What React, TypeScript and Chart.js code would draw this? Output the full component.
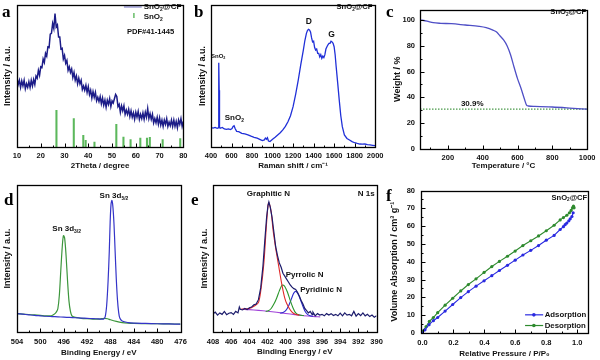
import React, { useEffect, useRef } from "react";
import { Chart, registerables } from "chart.js";
Chart.register(...registerables);

type Pt = [number, number];
const FONT = "'Liberation Sans', Arial, Helvetica, sans-serif";

// ---------- (a) XRD ----------
const xrdTicks = [10, 20, 30, 40, 50, 60, 70, 80];
const xrdCurve: Pt[] = [
  [10,48.5],[10.5,44],[11,47],[11.5,42],[12,46.5],[12.5,43],[13,47],[13.5,41],[14,44.5],[14.5,42],[15,46],[15.5,42],[16,47],[16.5,43],[17,47.5],[17.5,44],[18,50],[18.5,48.5],[19,54],[19.5,50.5],[20,56.5],[20.5,56],[21,62],[21.5,59.5],[22,66],[22.5,64],[23,70.5],[23.5,70],[24,79.5],[24.5,80],[25,87],[25.5,83.5],[26,94],[26.5,84.5],[27,86],[27.5,77.5],[28,77.5],[28.5,69],[29,69.5],[29.5,62],[30,64.5],[30.5,59],[31,61],[31.5,54],[32,56.5],[32.5,52.5],[33,55],[33.5,49],[34,52.5],[34.5,47],[35,50],[35.5,44.5],[36,48.5],[36.5,44.5],[37,47],[37.5,40.5],[38,43],[38.5,40],[39,43.5],[39.5,38.5],[40,42.5],[40.5,37],[41,40],[41.5,34.5],[42,39],[42.5,35],[43,38.5],[43.5,32.5],[44,35],[44.5,32],[45,35.5],[45.5,30.5],[46,34.5],[46.5,29.5],[47,33],[47.5,28],[48,33],[48.5,30],[49,34],[49.5,28.5],[50,32.5],[50.5,31],[51,34],[51.5,37],[52,35.5],[52.5,28.5],[53,30],[53.5,24.5],[54,29],[54.5,25.5],[55,29],[55.5,23],[56,26],[56.5,23],[57,26.5],[57.5,21.5],[58,25.5],[58.5,21],[59,24],[59.5,19.5],[60,24.5],[60.5,21],[61,25],[61.5,19.5],[62,23],[62.5,20],[63,24],[63.5,19.5],[64,24.5],[64.5,21],[65,27],[65.5,20],[66,23.5],[66.5,19.5],[67,23],[67.5,17],[68,20],[68.5,17],[69,21],[69.5,16],[70,20.5],[70.5,15.5],[71,19],[71.5,14.5],[72,19],[72.5,16],[73,20],[73.5,14.5],[74,17.5],[74.5,15],[75,19],[75.5,14.5],[76,19],[76.5,14.5],[77,18],[77.5,13.5],[78,19],[78.5,16],[79,20],[79.5,14.5],[80,18]
];
const pdfPositions = [26.6, 33.9, 37.9, 38.9, 42.6, 51.8, 54.8, 57.8, 61.9, 64.7, 65.9, 71.3, 78.7];
const pdfIntensities = [25.8, 20, 8.2, 4.7, 3.5, 16, 7, 5.2, 6.3, 6.3, 6.8, 5.2, 5.9];

// ---------- (b) Raman ----------
const ramanTicks = [400, 600, 800, 1000, 1200, 1400, 1600, 1800, 2000];
const ramanCurve: Pt[] = [
  [400,13.6],[420,13.3],[440,13.8],[460,13.2],[470,13.5],[474,16],[477,59.4],[480,40],[483,14],[490,13.2],[510,13.8],[530,12.7],[550,12.4],[570,12.8],[590,12.3],[605,13],[615,14.5],[625,15],[635,13],[650,11],[670,10.8],[700,9.6],[730,9.2],[760,8.6],[790,7.6],[820,6.8],[850,6.2],[880,5.2],[900,4.5],[920,5],[930,6.3],[940,5.5],[950,6.5],[960,4.2],[975,3.8],[1000,5.4],[1025,6.8],[1050,8.5],[1075,10],[1100,12],[1125,14.5],[1150,17.8],[1175,22],[1200,28.4],[1225,37],[1250,47],[1275,58],[1300,68.3],[1315,75],[1330,80],[1340,82],[1350,82.9],[1360,82.5],[1370,81],[1380,77],[1390,74],[1400,74.5],[1410,70],[1420,68.3],[1430,69],[1440,66],[1450,66],[1460,63.5],[1470,65],[1480,62.4],[1490,64],[1500,63],[1510,65],[1520,69],[1530,70.6],[1540,72],[1550,73],[1560,73],[1570,74.5],[1580,74],[1590,73],[1600,70.6],[1610,65],[1620,56.5],[1635,45],[1650,33],[1665,22],[1680,14.3],[1700,8.5],[1725,6],[1750,4.9],[1775,3.8],[1800,3],[1825,2.5],[1850,2.1],[1875,2],[1900,2.1],[1925,1.7],[1950,1.5],[1975,1.2],[2000,0.9]
];

// ---------- (c) TGA ----------
const tgaXTicks = [200, 400, 600, 800, 1000];
const tgaYTicks = [0, 20, 40, 60, 80, 100];
const tgaCurve: Pt[] = [
  [40,100],[80,99],[116,97.8],[160,97.3],[220,97],[300,96],[380,95],[420,94],[459,92],[480,90.5],[500,87.5],[520,84.5],[540,80],[560,73],[580,63.5],[600,54.5],[620,47],[640,38.5],[652,34],[662,33.3],[700,33],[800,32.5],[900,31.7],[1000,30.8]
];
const residue: Pt[] = [[40, 30.9], [1000, 30.9]];

// ---------- (d) Sn 3d ----------
const sn3dTicks = [504, 500, 496, 492, 488, 484, 480, 476];
const sn3d32: Pt[] = [
  [504,12.5],[503,12.2],[502,11.9],[501,11.6],[500,11.3],[499,11],[498.5,11],[498,11.2],[497.5,12.5],[497.2,14],[497,16],[496.75,25],[496.5,42],[496.25,58],[496.05,65.5],[495.85,64],[495.6,52],[495.35,35],[495.1,21],[494.85,14],[494.6,11],[494.3,10.3],[494,10],[493.5,9.7],[493,9.3],[492,9],[491,8.8],[490,8.8],[489.5,9.1],[489,9.3],[488.5,9],[488,8.3],[487,7.2],[486,6.4],[485,6],[484,5.8],[482,5.7],[480,5.6],[478,5.5],[476,5.4]
];
const sn3d52: Pt[] = [
  [504,12.5],[503,12.1],[502,11.7],[501,11.3],[500,11],[499,10.7],[498,10.5],[497,10.3],[496,10.1],[495,9.9],[494,9.7],[493,9.5],[492,9.3],[491,9.1],[490,8.9],[489.2,8.8],[488.9,10.5],[488.65,18],[488.4,35],[488.2,55],[488.05,75],[487.9,87],[487.75,89.5],[487.6,86],[487.4,74],[487.2,55],[487,36],[486.8,22],[486.6,13.5],[486.4,9.5],[486,7.5],[485,6.4],[484,6],[482,5.8],[480,5.6],[478,5.5],[476,5.3]
];

// ---------- (e) N 1s ----------
const n1sTicks = [408, 406, 404, 402, 400, 398, 396, 394, 392, 390];
const n1sRaw: Pt[] = [
  [408,12.5],[407.75,13.5],[407.5,11.5],[407.25,13],[407,12],[406.75,14],[406.5,11.8],[406.25,12.8],[406,13.2],[405.75,12],[405.5,14],[405.25,13],[405.1,17],[405,15.5],[404.75,15],[404.5,16],[404.25,15.2],[404,16.5],[403.75,17],[403.5,18.5],[403.25,19],[403,22],[402.75,30],[402.5,45],[402.3,62],[402.1,78],[401.95,86],[401.85,88.5],[401.7,85],[401.5,78],[401.3,68],[401.1,58],[400.9,52],[400.7,47],[400.5,44],[400.3,40],[400.1,38],[399.9,36],[399.7,34],[399.5,32],[399.3,30.5],[399.1,29.5],[398.9,29],[398.7,27],[398.5,24.5],[398.3,21.5],[398.1,19],[397.9,16],[397.7,14.5],[397.5,13],[397.3,14],[397.1,12],[397,13.5],[396.75,11],[396.5,12.5],[396.25,11.5],[396,12],[395.75,11],[395.5,12.5],[395.25,11.5],[395,12.5],[394.75,11.2],[394.5,12],[394.25,11],[394,12.8],[393.75,11],[393.5,13],[393.25,11.5],[393,12],[392.75,11],[392.5,14],[392.25,10.8],[392,12.5],[391.75,11.2],[391.5,13],[391.25,11],[391,12],[390.75,10.5],[390.5,11.5],[390.25,10],[390,11]
];
const n1sGraphitic: Pt[] = [
  [405,15.5],[404,16],[403.5,17.5],[403,20],[402.7,30],[402.4,47],[402.15,70],[401.95,86],[401.85,88],[401.6,82],[401.4,70],[401.1,57],[400.8,46],[400.5,35],[400.3,28.5],[400.1,23],[399.9,19.5],[399.6,16],[399.3,13.5],[399,12.2],[398.5,11.4]
];
const n1sPyrrolic: Pt[] = [
  [402.2,14],[401.9,14.5],[401.6,16],[401.3,19],[401,23],[400.7,28],[400.45,31.5],[400.3,32],[400.1,31],[399.8,27],[399.5,21.5],[399.2,16.5],[398.9,13],[398.5,11.5],[398,11.2]
];
const n1sPyridinic: Pt[] = [
  [400.6,12.8],[400.3,13.2],[400,14.5],[399.7,17.5],[399.4,22],[399.15,26],[398.95,27.5],[398.75,27],[398.5,24],[398.2,19],[397.9,14.5],[397.6,12],[397.3,11],[397,10.7]
];
const n1sBackground: Pt[] = [
  [404.8,15.5],[404,15.2],[403,14.7],[402,14.1],[401,13.4],[400,12.6],[399,11.8],[398,11.1],[397,10.6],[396.2,10.3]
];

// ---------- (f) N2 isotherm ----------
const betXTicks = [0, 0.2, 0.4, 0.6, 0.8, 1.0];
const betYTicks = [0, 10, 20, 30, 40, 50, 60, 70, 80];
const adsorption: Pt[] = [
  [0,0],[0.016,1.8],[0.042,4.7],[0.07,6.9],[0.098,8.7],[0.146,12.3],[0.195,16],[0.247,19.9],[0.296,23.2],[0.346,26.3],[0.398,29.3],[0.448,32.2],[0.497,35.1],[0.549,38],[0.599,40.9],[0.649,43.8],[0.7,46.4],[0.75,49.1],[0.8,52.1],[0.851,54.8],[0.89,58.1],[0.911,59.7],[0.922,60.8],[0.933,61.7],[0.946,63],[0.955,64.1],[0.966,65.4],[0.974,67.5]
];
const desorption: Pt[] = [
  [0,1.1],[0.023,3.6],[0.044,6.5],[0.07,8.7],[0.098,11.4],[0.146,15.6],[0.195,19.5],[0.247,23.6],[0.296,27.2],[0.346,30.4],[0.398,34],[0.448,37.3],[0.497,40.2],[0.549,43.1],[0.599,46],[0.649,49.1],[0.7,51.8],[0.75,54.5],[0.8,57.4],[0.851,60.5],[0.89,63.5],[0.911,64.8],[0.933,66.1],[0.95,67.5],[0.961,68.8],[0.97,70.3],[0.976,71.2],[0.98,70.3]
];

// ---------- helpers ----------
const pts = (a: Pt[]) => a.map(([x, y]) => ({ x, y }));

type Note =
  | { t: "text"; text: string; x: number; y: number; size?: number; align?: "left" | "center" | "right" }
  | { t: "seg"; x1: number; x2: number; y: number; color: string; width?: number }
  | { t: "dot"; x: number; y: number; color: string; r?: number }
  | { t: "vbar"; x: number; y1: number; y2: number; color: string; width?: number };

interface Axis {
  min: number; max: number; reverse?: boolean; ticks?: number[]; marks: boolean;
  title: string; titlePad: number; tickPad: number; fmt?: (v: number) => string;
}
interface Panel {
  key: string; left: number; top: number; w: number; h: number;
  area: [number, number, number, number];
  x: Axis; y: Axis; datasets: any[]; notes: Note[];
}

function drawRich(ctx: CanvasRenderingContext2D, text: string, x: number, y: number, size: number, align: string) {
  const parts: { s: string; m: number }[] = [];
  const re = /([_^])\{([^}]*)\}/g;
  let last = 0;
  let m: RegExpExecArray | null;
  while ((m = re.exec(text))) {
    if (m.index > last) parts.push({ s: text.slice(last, m.index), m: 0 });
    parts.push({ s: m[2], m: m[1] === "_" ? 1 : 2 });
    last = re.lastIndex;
  }
  if (last < text.length) parts.push({ s: text.slice(last), m: 0 });
  const fontFor = (mode: number) => `bold ${mode ? size * 0.62 : size}px ${FONT}`;
  let total = 0;
  const widths = parts.map((p) => {
    ctx.font = fontFor(p.m);
    const w = ctx.measureText(p.s).width;
    total += w;
    return w;
  });
  let cx = align === "center" ? x - total / 2 : align === "right" ? x - total : x;
  ctx.textAlign = "left";
  ctx.textBaseline = "middle";
  ctx.fillStyle = "#111";
  parts.forEach((p, i) => {
    ctx.font = fontFor(p.m);
    const dy = p.m === 1 ? size * 0.3 : p.m === 2 ? -size * 0.35 : 0;
    ctx.fillText(p.s, cx, y + dy);
    cx += widths[i];
  });
}

function minorOf(t: number[] | undefined, a: number, b: number) {
  const out: number[] = [];
  if (!t || t.length < 2) return out;
  const step = t[1] - t[0];
  const lo = Math.min(a, b), hi = Math.max(a, b);
  for (let i = -1; i < t.length; i++) {
    const v = t[0] + step * (i + 0.5);
    if (v > lo && v < hi) out.push(v);
  }
  return out;
}

function framePlugin(p: Panel) {
  return {
    id: "frame-" + p.key,
    afterDraw(chart: any) {
      const { ctx, chartArea } = chart;
      const { left, right, top, bottom } = chartArea;
      const xs = chart.scales.x, ys = chart.scales.y;
      ctx.save();
      for (const n of p.notes) {
        if (n.t === "text") {
          drawRich(ctx, n.text, xs.getPixelForValue(n.x), ys.getPixelForValue(n.y), n.size ?? 8, n.align ?? "center");
        } else if (n.t === "seg") {
          ctx.strokeStyle = n.color; ctx.lineWidth = n.width ?? 1.2;
          ctx.beginPath();
          const yy = ys.getPixelForValue(n.y);
          ctx.moveTo(xs.getPixelForValue(n.x1), yy); ctx.lineTo(xs.getPixelForValue(n.x2), yy);
          ctx.stroke();
        } else if (n.t === "dot") {
          ctx.fillStyle = n.color;
          ctx.beginPath();
          ctx.arc(xs.getPixelForValue(n.x), ys.getPixelForValue(n.y), n.r ?? 1.8, 0, Math.PI * 2);
          ctx.fill();
        } else if (n.t === "vbar") {
          ctx.strokeStyle = n.color; ctx.lineWidth = n.width ?? 1.5;
          ctx.beginPath();
          const xx = xs.getPixelForValue(n.x);
          ctx.moveTo(xx, ys.getPixelForValue(n.y1)); ctx.lineTo(xx, ys.getPixelForValue(n.y2));
          ctx.stroke();
        }
      }
      ctx.strokeStyle = "#000";
      ctx.lineWidth = 1.3;
      const L = Math.round(left) + 0.5, R = Math.round(right) + 0.5, T = Math.round(top) + 0.5, B = Math.round(bottom) + 0.5;
      ctx.strokeRect(L, T, R - L, B - T);
      ctx.lineWidth = 1;
      ctx.beginPath();
      if (p.x.marks && p.x.ticks) {
        for (const v of p.x.ticks) { const px = Math.round(xs.getPixelForValue(v)) + 0.5; ctx.moveTo(px, B); ctx.lineTo(px, B - 4); }
        for (const v of minorOf(p.x.ticks, p.x.min, p.x.max)) { const px = Math.round(xs.getPixelForValue(v)) + 0.5; ctx.moveTo(px, B); ctx.lineTo(px, B - 2); }
      }
      if (p.y.marks && p.y.ticks) {
        for (const v of p.y.ticks) { const py = Math.round(ys.getPixelForValue(v)) + 0.5; ctx.moveTo(L, py); ctx.lineTo(L + 4, py); }
        for (const v of minorOf(p.y.ticks, p.y.min, p.y.max)) { const py = Math.round(ys.getPixelForValue(v)) + 0.5; ctx.moveTo(L, py); ctx.lineTo(L + 2, py); }
      }
      ctx.stroke();
      ctx.restore();
    },
  };
}

function buildConfig(p: Panel): any {
  const [al, at, ar, ab] = p.area;
  const tickFont = { family: FONT, size: 7.5, weight: "bold" as const };
  return {
    type: "line",
    data: { datasets: p.datasets },
    options: {
      responsive: false,
      maintainAspectRatio: false,
      animation: false,
      layout: { padding: { left: 0, top: at, right: p.w - ar, bottom: 0 } },
      plugins: { legend: { display: false }, tooltip: { enabled: false } },
      elements: { point: { radius: 0 } },
      scales: {
        x: {
          type: "linear", min: p.x.min, max: p.x.max, reverse: !!p.x.reverse, offset: false,
          grid: { display: false, drawTicks: false }, border: { display: false },
          ticks: {
            display: true, font: tickFont, color: "#111", padding: p.x.tickPad, maxRotation: 0, autoSkip: false,
            callback: (v: number) => (p.x.fmt ? p.x.fmt(v) : String(v)),
          },
          afterBuildTicks: (s: any) => { s.ticks = (p.x.ticks ?? []).map((v) => ({ value: v })); },
          afterFit: (s: any) => { s.height = p.h - ab; },
          title: { display: true, text: p.x.title, color: "#111", font: { family: FONT, size: 8, weight: "bold" }, padding: { top: 0, bottom: p.x.titlePad } },
        },
        y: {
          type: "linear", min: p.y.min, max: p.y.max, reverse: !!p.y.reverse,
          grid: { display: false, drawTicks: false }, border: { display: false },
          ticks: {
            display: !!p.y.ticks, font: tickFont, color: "#111", padding: p.y.tickPad, autoSkip: false,
            callback: (v: number) => (p.y.fmt ? p.y.fmt(v) : String(v)),
          },
          afterBuildTicks: (s: any) => { if (p.y.ticks) s.ticks = p.y.ticks.map((v) => ({ value: v })); },
          afterFit: (s: any) => { s.width = al; },
          title: { display: true, text: p.y.title, color: "#111", font: { family: FONT, size: 9, weight: "bold" }, padding: { top: p.y.titlePad, bottom: 0 } },
        },
      },
    },
    plugins: [framePlugin(p)],
  };
}

const line = (data: Pt[], color: string, width = 1.2, extra: any = {}) => ({
  type: "line", data: pts(data), borderColor: color, backgroundColor: color, borderWidth: width,
  pointRadius: 0, tension: 0, fill: false, ...extra,
});

const panels: Panel[] = [
  {
    key: "a", left: 0, top: 0, w: 192, h: 180, area: [17, 5, 185, 147],
    x: { min: 10, max: 80, ticks: xrdTicks, marks: true, title: "2Theta / degree", titlePad: 9.2, tickPad: 4.5 },
    y: { min: 0, max: 100, marks: false, title: "Intensity / a.u.", titlePad: 2.6, tickPad: 0 },
    datasets: [
      line(xrdCurve, "#1c1c88", 1.5),
      { type: "bar", data: pdfPositions.map((x, i) => ({ x, y: pdfIntensities[i] })), backgroundColor: "#5cb85c", barThickness: 1.4, grouped: false },
    ],
    notes: [
      { t: "seg", x1: 55, x2: 62.5, y: 98.6, color: "#6a6ac0", width: 1 },
      { t: "text", text: "SnO_{2}@CF", x: 63.3, y: 98.6, align: "left" },
      { t: "vbar", x: 59.2, y1: 90.8, y2: 94.4, color: "#5cb85c", width: 1.4 },
      { t: "text", text: "SnO_{2}", x: 63.3, y: 91.5, align: "left" },
      { t: "text", text: "PDF#41-1445", x: 56.25, y: 81, align: "left", size: 7.6 },
    ],
  },
  {
    key: "b", left: 192, top: 0, w: 196, h: 180, area: [19, 5, 188, 147],
    x: { min: 400, max: 2000, ticks: ramanTicks, marks: true, title: "Raman shift / cm\u207B\u00B9", titlePad: 9.2, tickPad: 4.5 },
    y: { min: 0, max: 100, marks: false, title: "Intensity / a.u.", titlePad: 5.6, tickPad: 0 },
    datasets: [line(ramanCurve, "#2030d8", 1.3)],
    notes: [
      { t: "text", text: "SnO_{2}", x: 470, y: 64, size: 6 },
      { t: "text", text: "SnO_{2}", x: 627, y: 20.5 },
      { t: "text", text: "D", x: 1353, y: 88, size: 8.5 },
      { t: "text", text: "G", x: 1574, y: 79, size: 8.5 },
      { t: "text", text: "SnO_{2}@CF", x: 1972, y: 98.4, align: "right", size: 7.6 },
    ],
  },
  {
    key: "c", left: 380, top: 0, w: 220, h: 180, area: [40, 5, 208, 149],
    x: { min: 40, max: 1000, ticks: tgaXTicks, marks: true, title: "Temperature / \u00B0C", titlePad: 9.2, tickPad: 4.5 },
    y: { min: 0, max: 108, ticks: tgaYTicks, marks: true, title: "Weight / %", titlePad: 12.6, tickPad: 5 },
    datasets: [
      line(tgaCurve, "#4f4fc6", 1.3, { cubicInterpolationMode: "monotone" }),
      line(residue, "#4a9a4a", 1.2, { borderDash: [1.5, 1.5] }),
    ],
    notes: [
      { t: "text", text: "SnO_{2}@CF", x: 994, y: 106, align: "right", size: 7.6 },
      { t: "text", text: "30.9%", x: 340, y: 35 },
    ],
  },
  {
    key: "d", left: 0, top: 180, w: 192, h: 180, area: [17, 5, 185, 152],
    x: { min: 476, max: 504, reverse: true, ticks: sn3dTicks, marks: true, title: "Binding Energy / eV", titlePad: 2.5, tickPad: 5.2 },
    y: { min: 0, max: 100, marks: false, title: "Intensity / a.u.", titlePad: 2.6, tickPad: 0 },
    datasets: [
      line(sn3d52, "#3434c8", 1.2, { tension: 0.3 }),
      line(sn3d32, "#3c963c", 1.2, { tension: 0.3 }),
    ],
    notes: [
      { t: "text", text: "Sn 3d_{3/2}", x: 495.5, y: 70 },
      { t: "text", text: "Sn 3d_{5/2}", x: 487.4, y: 92.5 },
    ],
  },
  {
    key: "e", left: 192, top: 180, w: 196, h: 180, area: [21, 5, 190, 152],
    x: { min: 390, max: 408, reverse: true, ticks: n1sTicks, marks: true, title: "Binding Energy / eV", titlePad: 3.5, tickPad: 5.2 },
    y: { min: 0, max: 100, marks: false, title: "Intensity / a.u.", titlePad: 7.6, tickPad: 0 },
    datasets: [
      line(n1sRaw, "#1c1c6c", 1.2),
      line(n1sGraphitic, "#e02a2a", 1.1, { tension: 0.3 }),
      line(n1sPyrrolic, "#2a962a", 1.1, { tension: 0.3 }),
      line(n1sPyridinic, "#2a2acc", 1.1, { tension: 0.3 }),
      line(n1sBackground, "#a043d8", 1.1, { tension: 0.3 }),
    ],
    notes: [
      { t: "text", text: "Graphitic N", x: 401.9, y: 94.3 },
      { t: "text", text: "N 1s", x: 390.2, y: 94.3, align: "right" },
      { t: "text", text: "Pyrrolic N", x: 400.0, y: 39.2, align: "left" },
      { t: "text", text: "Pyridinic N", x: 398.4, y: 28.6, align: "left" },
    ],
  },
  {
    key: "f", left: 380, top: 180, w: 220, h: 180, area: [41, 5, 208, 153],
    x: { min: -0.01, max: 1.07, ticks: betXTicks, marks: true, title: "Relative Pressure / P/P\u2080", titlePad: 1.9, tickPad: 5.2, fmt: (v) => v.toFixed(1) },
    y: { min: 0, max: 80, ticks: betYTicks, marks: true, title: "Volume Absorption / cm\u00B3 g\u207B\u00B9", titlePad: 9.6, tickPad: 6 },
    datasets: [
      line(adsorption, "#2a2ae0", 1.1, { pointRadius: 1.6, pointBackgroundColor: "#2a2ae0", pointBorderWidth: 0 }),
      line(desorption, "#2e8a2e", 1.1, { pointRadius: 1.6, pointBackgroundColor: "#2e8a2e", pointBorderWidth: 0 }),
    ],
    notes: [
      { t: "text", text: "SnO_{2}@CF", x: 1.065, y: 75.9, align: "right", size: 7.6 },
      { t: "seg", x1: 0.663, x2: 0.78, y: 10.2, color: "#2a2ae0" },
      { t: "dot", x: 0.72, y: 10.2, color: "#2a2ae0" },
      { t: "text", text: "Adsorption", x: 0.79, y: 10.2, size: 7.8, align: "left" },
      { t: "seg", x1: 0.663, x2: 0.78, y: 4.2, color: "#2e8a2e" },
      { t: "dot", x: 0.72, y: 4.2, color: "#2e8a2e" },
      { t: "text", text: "Desorption", x: 0.79, y: 4.2, size: 7.8, align: "left" },
    ],
  },
];

const letters = [
  { s: "a", left: 2, top: 3 },
  { s: "b", left: 194, top: 3 },
  { s: "c", left: 386, top: 3 },
  { s: "d", left: 4, top: 191 },
  { s: "e", left: 191, top: 191 },
  { s: "f", left: 386, top: 187 },
];

function ChartPanel({ p }: { p: Panel }) {
  const ref = useRef<HTMLCanvasElement>(null);
  useEffect(() => {
    const chart = new Chart(ref.current as HTMLCanvasElement, buildConfig(p));
    return () => chart.destroy();
  }, [p]);
  return (
    <canvas
      ref={ref}
      width={p.w}
      height={p.h}
      style={{ position: "absolute", left: p.left, top: p.top, width: p.w, height: p.h }}
    />
  );
}

export default function App() {
  return (
    <div style={{ position: "absolute", left: 0, top: 0, width: 600, height: 360, background: "#fff", overflow: "hidden" }}>
      {panels.map((p) => (
        <ChartPanel key={p.key} p={p} />
      ))}
      {letters.map((l) => (
        <span
          key={l.s}
          style={{ position: "absolute", left: l.left, top: l.top, font: "bold 17px 'Liberation Serif', 'Times New Roman', serif", lineHeight: "17px", color: "#000" }}
        >
          {l.s}
        </span>
      ))}
    </div>
  );
}
